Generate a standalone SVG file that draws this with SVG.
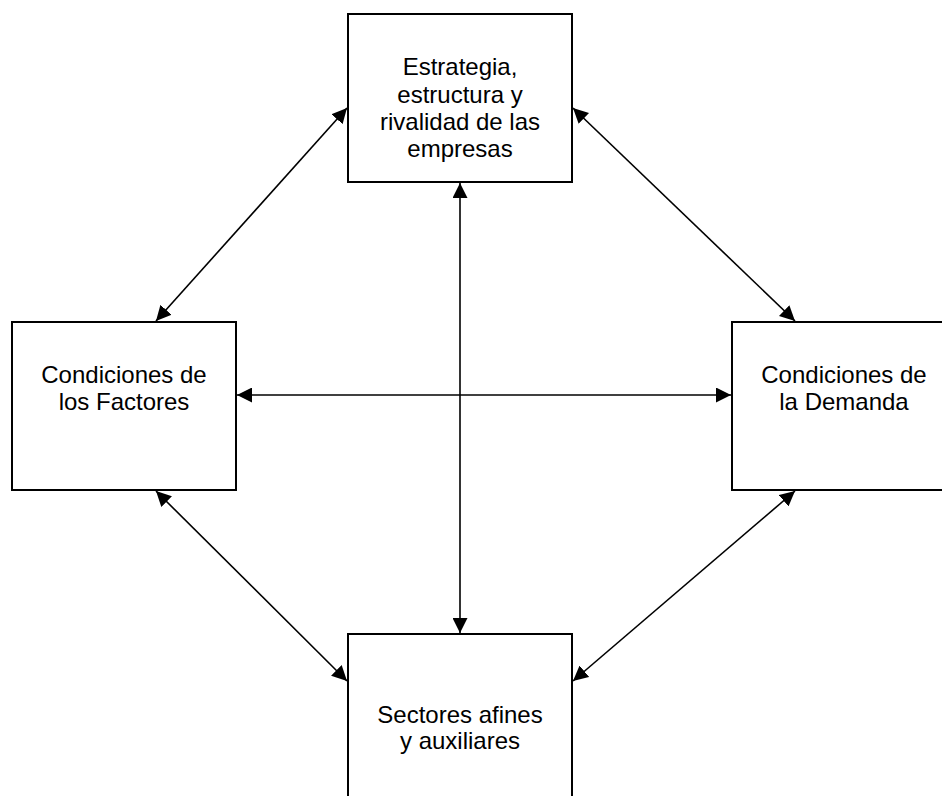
<svg xmlns="http://www.w3.org/2000/svg" width="942" height="796" viewBox="0 0 942 796">
<style>
.box{fill:#fff;stroke:#000;stroke-width:2}
.lbl{font-family:"Liberation Sans",Arial,sans-serif;font-size:24px;fill:#000;text-anchor:middle}
.conn{stroke:#000;stroke-width:1.6;fill:none;marker-start:url(#ah);marker-end:url(#ah)}
</style>
<defs>
<marker id="ah" markerUnits="userSpaceOnUse" markerWidth="16" markerHeight="15" refX="15" refY="7.5" orient="auto-start-reverse">
<path d="M0,0 L15,7.5 L0,15 z" fill="#000"/>
</marker>
</defs>
<rect width="942" height="796" fill="#fff"/>
<g id="connectors">
<line class="conn" x1="156" y1="321" x2="347" y2="108"/>
<line class="conn" x1="573" y1="108" x2="795" y2="321"/>
<line class="conn" x1="237" y1="395" x2="731" y2="395"/>
<line class="conn" x1="460" y1="183" x2="460" y2="633"/>
<line class="conn" x1="156" y1="491" x2="347" y2="681"/>
<line class="conn" x1="795" y1="491" x2="573" y2="681"/>
</g>
<g id="estrategia">
<rect class="box" x="348" y="14" width="224" height="168"/>
<text class="lbl" x="460" y="75">Estrategia,</text>
<text class="lbl" x="460" y="102.5">estructura y</text>
<text class="lbl" x="460" y="130">rivalidad de las</text>
<text class="lbl" x="460" y="157">empresas</text>
</g>
<g id="factores">
<rect class="box" x="12" y="322" width="224" height="168"/>
<text class="lbl" x="124" y="383">Condiciones de</text>
<text class="lbl" x="124" y="410">los Factores</text>
</g>
<g id="demanda">
<rect class="box" x="732" y="322" width="224" height="168"/>
<text class="lbl" x="844" y="382.5">Condiciones de</text>
<text class="lbl" x="844" y="410">la Demanda</text>
</g>
<g id="sectores">
<rect class="box" x="348" y="634" width="224" height="168"/>
<text class="lbl" x="460" y="722.5">Sectores afines</text>
<text class="lbl" x="460" y="748.5">y auxiliares</text>
</g>
</svg>
